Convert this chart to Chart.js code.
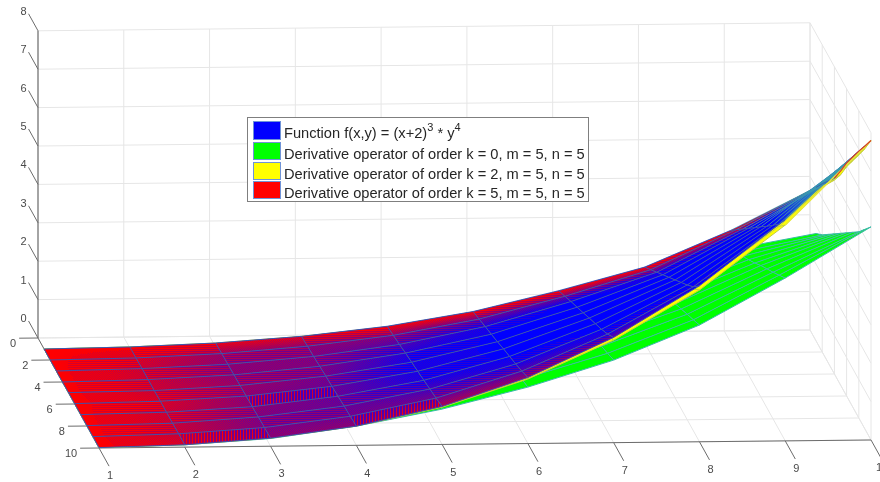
<!DOCTYPE html>
<html>
<head>
<meta charset="utf-8">
<style>
  html, body { margin: 0; padding: 0; background: #fff; }
  #box { width: 880px; height: 482px; overflow: hidden; }
  canvas { filter: blur(0.35px); }
</style>
<script src="https://cdn.jsdelivr.net/npm/chart.js@4/dist/chart.umd.min.js"></script>
</head>
<body>
<div id="box"><canvas id="surfaceChart" width="880" height="482"></canvas></div>
<script>
const xTicks = [1, 2, 3, 4, 5, 6, 7, 8, 9, 10]
const yTicks = [0, 2, 4, 6, 8, 10]
const zTicks = [0, 1, 2, 3, 4, 5, 6, 7, 8]
const xValues = [1, 2, 3, 4, 5, 6, 7, 8, 9, 10]
const yValues = [1, 2, 3, 4, 5, 6, 7, 8, 9, 10]

const legendLabels = [
  "Function f(x,y) = (x+2)|3| * y|4",
  "Derivative operator of order k = 0, m = 5, n = 5",
  "Derivative operator of order k = 2, m = 5, n = 5",
  "Derivative operator of order k = 5, m = 5, n = 5",
]

// one row per y value
const functionZ = [
  [0, .03, .11, .26, .50, .86, 1.38, 1.97, 2.90, 4.00],
  [0, .03, .12, .29, .55, .95, 1.52, 2.19, 3.21, 4.38],
  [0, .04, .13, .31, .60, 1.04, 1.67, 2.41, 3.51, 4.74],
  [0, .04, .14, .34, .66, 1.13, 1.81, 2.63, 3.82, 5.10],
  [.01, .04, .15, .37, .71, 1.22, 1.95, 2.85, 4.12, 5.57],
  [.01, .05, .16, .39, .76, 1.32, 2.10, 3.07, 4.43, 6.07],
  [.01, .05, .17, .42, .81, 1.41, 2.24, 3.29, 4.73, 6.51],
  [.01, .05, .19, .45, .87, 1.50, 2.38, 3.51, 5.04, 6.95],
  [.01, .06, .20, .47, .92, 1.60, 2.54, 3.75, 5.36, 7.37],
  [.01, .06, .21, .50, .99, 1.72, 2.74, 4.06, 5.76, 7.80],
]
const order0Z = [
  [0, .03, .10, .25, .48, .78, 1.20, 1.72, 2.40, 2.80],
  [0, .03, .11, .28, .53, .86, 1.30, 1.87, 2.60, 3.05],
  [0, .04, .12, .30, .58, .93, 1.41, 2.02, 2.80, 3.35],
  [0, .04, .13, .33, .63, 1.01, 1.52, 2.16, 3.00, 3.65],
  [.01, .04, .14, .36, .68, 1.09, 1.62, 2.31, 3.20, 3.95],
  [.01, .05, .15, .38, .72, 1.16, 1.73, 2.45, 3.42, 4.25],
  [.01, .05, .16, .41, .77, 1.24, 1.83, 2.60, 3.62, 4.55],
  [.01, .05, .18, .44, .82, 1.32, 1.94, 2.75, 3.82, 4.85],
  [.01, .06, .19, .47, .87, 1.39, 2.04, 2.89, 4.03, 5.20],
  [.01, .06, .20, .50, .92, 1.47, 2.15, 3.04, 4.24, 5.55],
]
const order2Z = [
  [0, .03, .11, .26, .49, .85, 1.36, 1.95, 2.87, 4.00],
  [0, .03, .12, .29, .54, .94, 1.50, 2.17, 3.18, 4.36],
  [0, .04, .13, .31, .59, 1.03, 1.65, 2.39, 3.48, 4.72],
  [0, .04, .14, .34, .65, 1.12, 1.79, 2.60, 3.79, 5.05],
  [.01, .04, .15, .37, .70, 1.21, 1.93, 2.82, 4.09, 5.47],
  [.01, .05, .16, .39, .75, 1.31, 2.08, 3.04, 4.40, 5.97],
  [.01, .05, .17, .42, .80, 1.39, 2.22, 3.26, 4.70, 6.41],
  [.01, .05, .19, .45, .86, 1.48, 2.36, 3.47, 5.01, 6.85],
  [.01, .06, .20, .47, .91, 1.57, 2.50, 3.70, 5.30, 7.30],
  [.01, .06, .21, .50, .97, 1.68, 2.67, 3.95, 5.62, 7.80],
]
const order5Z = [
  [0, .03, .11, .26, .50, .86, 1.38, 1.97, 2.90, 4.00],
  [0, .03, .12, .29, .55, .95, 1.52, 2.19, 3.21, 4.38],
  [0, .04, .13, .31, .60, 1.04, 1.67, 2.41, 3.51, 4.74],
  [0, .04, .14, .34, .66, 1.13, 1.81, 2.63, 3.82, 5.10],
  [.01, .04, .15, .37, .71, 1.22, 1.95, 2.85, 4.12, 5.57],
  [.01, .05, .16, .39, .76, 1.32, 2.10, 3.07, 4.43, 6.07],
  [.01, .05, .17, .42, .81, 1.41, 2.24, 3.29, 4.73, 6.51],
  [.01, .05, .19, .45, .87, 1.50, 2.38, 3.51, 5.04, 6.95],
  [.01, .06, .20, .47, .92, 1.60, 2.54, 3.75, 5.36, 7.37],
  [.01, .06, .21, .50, .99, 1.72, 2.74, 4.06, 5.76, 7.80],
]

// how much of the red surface wins over the blue one at each grid node
const redCover = [
  [1, 1, .9, .85, .95, .95, .95, .95, .9, .3],
  [1, .85, .6, .55, .5, .4, .4, .55, .65, .1],
  [1, .8, .55, .5, .3, .08, 0, .08, .15, 0],
  [1, .8, .55, .5, .15, 0, 0, 0, 0, 0],
  [1, .8, .6, .45, .08, 0, 0, 0, 0, 0],
  [1, .85, .55, .42, .08, 0, 0, 0, 0, 0],
  [1, .8, .55, .4, .12, 0, 0, 0, 0, 0],
  [1, .78, .5, .42, .28, .12, 0, 0, 0, 0],
  [1, .78, .5, .45, .45, .35, .15, .05, 0, 0],
  [1, .85, .55, .55, .7, .6, .45, .15, .1, 0],
]
// cells (row, column) that show the coarse upright hatch
const coarseHatch = ["5,2", "8,1", "8,3"]

// MATLAB view of the box, it is orthographic so a plain affine map is enough
function project(x, y, z) {
  return {
    x: 38 + 85.78 * (x - 1) + 6.1 * y,
    y: 338 - 0.89 * (x - 1) + 11 * y - 38.4 * z,
  }
}

const canvas = document.getElementById("surfaceChart")
const chartCtx = canvas.getContext("2d")

// the two top surfaces fight in the depth buffer, this paints that hatch into a pattern
function buildRedHatch() {
  const tex = document.createElement("canvas")
  tex.width = 880
  tex.height = 482
  const tctx = tex.getContext("2d")
  const img = tctx.createImageData(880, 482)
  for (let j = 0; j < 9; j++) {
    for (let i = 0; i < 9; i++) {
      const coarse = coarseHatch.includes(i + "," + j)
      for (let a = 0; a <= 1; a += 0.004) {
        for (let b = 0; b <= 1; b += 0.02) {
          const z = (1 - b) * ((1 - a) * functionZ[i][j] + a * functionZ[i][j + 1]) + b * ((1 - a) * functionZ[i + 1][j] + a * functionZ[i + 1][j + 1])
          const cover = (1 - b) * ((1 - a) * redCover[i][j] + a * redCover[i][j + 1]) + b * ((1 - a) * redCover[i + 1][j] + a * redCover[i + 1][j + 1])
          const p = project(xValues[j] + a, yValues[i] + b, z)
          const px = Math.round(p.x)
          const py = Math.round(p.y)
          if (px < 0 || px >= 880 || py < 0 || py >= 482) continue
          // solid mix, with a light stripe on top so it does not look flat
          let stripe = ((i + j) % 2 ? py % 2 : (px + py) % 2) ? -0.12 : 0.12
          if (coarse) stripe = px % 3 === 0 ? 0.35 : -0.18
          const alpha = cover > 0.97 || cover < 0.02 ? cover : Math.min(1, Math.max(0, cover + stripe))
          const at = (py * 880 + px) * 4
          img.data[at] = 255
          img.data[at + 1] = 0
          img.data[at + 2] = 0
          img.data[at + 3] = Math.round(alpha * 255)
        }
      }
    }
  }
  tctx.putImageData(img, 0, 0)
  return chartCtx.createPattern(tex, "no-repeat")
}

const datasets = []

function addLine(points, color, width, segment) {
  const line = {
    data: points,
    showLine: true,
    borderColor: color,
    borderWidth: width,
    pointRadius: 0,
    tension: 0,
    fill: false,
  }
  if (segment) line.segment = segment
  datasets.push(line)
}

function addCell(points, color) {
  datasets.push({
    data: points,
    showLine: true,
    borderWidth: 0,
    pointRadius: 0,
    tension: 0,
    backgroundColor: color,
    fill: "shape",
  })
}

function cellPoints(table, i, j) {
  return [
    project(xValues[j], yValues[i], table[i][j]),
    project(xValues[j + 1], yValues[i], table[i][j + 1]),
    project(xValues[j + 1], yValues[i + 1], table[i + 1][j + 1]),
    project(xValues[j], yValues[i + 1], table[i + 1][j]),
  ]
}

function addCells(table, color) {
  for (let i = 0; i < yValues.length - 1; i++) {
    for (let j = 0; j < xValues.length - 1; j++) {
      addCell(cellPoints(table, i, j), color)
    }
  }
}

function addMesh(table, edge, lastEdge) {
  const segment = lastEdge ? { borderColor: (c) => (c.p0DataIndex === 8 ? lastEdge : undefined) } : null
  yValues.forEach((y, i) => addLine(xValues.map((x, j) => project(x, y, table[i][j])), edge, 1, segment))
  xValues.forEach((x, j) => addLine(yValues.map((y, i) => project(x, y, table[i][j])), edge, 1))
}

// box: back wall, right wall and floor grid
const gridColor = "#e6e6e6"
zTicks.forEach((z) => {
  addLine([project(1, 0, z), project(10, 0, z)], gridColor, 1)
  addLine([project(10, 0, z), project(10, 10, z)], gridColor, 1)
})
xTicks.forEach((x) => {
  addLine([project(x, 0, 0), project(x, 0, 8)], gridColor, 1)
  addLine([project(x, 0, 0), project(x, 10, 0)], gridColor, 1)
})
yTicks.forEach((y) => {
  addLine([project(1, y, 0), project(10, y, 0)], gridColor, 1)
  addLine([project(10, y, 0), project(10, y, 8)], gridColor, 1)
})

// dark axis lines and tick marks
const axisColor = "#6b6b6b"
addLine([project(1, 0, 0), project(1, 0, 8)], "#8a8a8a", 1.5)
addLine([project(1, 0, 0), project(1, 10, 0)], axisColor, 1)
addLine([project(1, 10, 0), project(10, 10, 0)], axisColor, 1)
zTicks.forEach((z) => addLine([project(1, 0, z), project(1, -1.55, z)], axisColor, 1))
xTicks.forEach((x) => addLine([project(x, 10, 0), project(x, 11.65, 0)], axisColor, 1))
yTicks.forEach((y) => addLine([project(1, y, 0), project(0.78, y, 0)], axisColor, 1))

// surfaces, lowest first
addCells(order0Z, "#00ff00")
addMesh(order0Z, "#39b8a8")
addCells(order2Z, "#ffff00")
addMesh(order2Z, "#c4cf3a")
addCells(functionZ, "#0000ff")
addCells(order5Z, buildRedHatch())

// the last column turns teal where all the edges bunch up
const tealFade = chartCtx.createLinearGradient(project(9, 1, 0).x + 40, 0, project(10, 1, 0).x + 5, 0)
tealFade.addColorStop(0, "rgba(50,170,170,0)")
tealFade.addColorStop(1, "rgba(50,170,170,0.9)")
for (let i = 0; i < 9; i++) addCell(cellPoints(functionZ, i, 8), tealFade)

addMesh(functionZ, "rgba(58,85,176,0.9)", "rgba(60,150,175,0.7)")

// tip: yellow below, red along the far edge
addLine([project(9, 10, order2Z[9][8]), project(10, 10, order2Z[9][9])], "#e8e83a", 1.5)
addLine(yValues.slice(3).map((y, i) => project(10, y, functionZ[i + 3][9])), "#d8402a", 1.2)

const tickText = {
  id: "tickText",
  afterDatasetsDraw(chart) {
    const { ctx, scales } = chart
    ctx.save()
    ctx.font = '11px "Liberation Sans"'
    ctx.fillStyle = "#4a4a4a"
    ctx.textBaseline = "middle"
    const put = (text, p, dx, dy, align) => {
      ctx.textAlign = align || "center"
      ctx.fillText(text, scales.x.getPixelForValue(p.x) + dx, scales.y.getPixelForValue(p.y) + dy)
    }
    zTicks.forEach((z) => put(String(z), project(1, -1.55, z), -5, -2))
    xTicks.forEach((x) => put(String(x), project(x, 11.65, 0), 1, 10))
    yTicks.forEach((y) => put(String(y), project(0.78, y, 0), -3, 6, "right"))
    ctx.restore()
  },
}

const boxLegend = {
  id: "boxLegend",
  afterDraw(chart) {
    const ctx = chart.ctx
    const swatchColors = ["#0000ff", "#00ff00", "#ffff00", "#ff0000"]
    const swatchTop = [121, 142, 162, 181]
    const swatchHeight = [18, 17, 17, 17]
    ctx.save()
    ctx.fillStyle = "#fff"
    ctx.fillRect(247.5, 117.5, 341, 84)
    ctx.strokeStyle = "#7f7f7f"
    ctx.lineWidth = 1
    ctx.strokeRect(247.5, 117.5, 341, 84)
    legendLabels.forEach((label, i) => {
      ctx.fillStyle = swatchColors[i]
      ctx.fillRect(253.5, swatchTop[i] + .5, 27, swatchHeight[i])
      ctx.strokeStyle = "#6f93d8"
      ctx.strokeRect(253.5, swatchTop[i] + .5, 27, swatchHeight[i])
      ctx.fillStyle = "#262626"
      ctx.textBaseline = "alphabetic"
      let penX = 284
      const baseY = swatchTop[i] + 16.5
      label.split("|").forEach((part, k) => {
        ctx.font = k % 2 ? '11px "Liberation Sans"' : '14.65px "Liberation Sans"'
        ctx.fillText(part, penX, k % 2 ? baseY - 7 : baseY)
        penX += ctx.measureText(part).width
      })
    })
    ctx.restore()
  },
}

new Chart(chartCtx, {
  type: "scatter",
  data: { datasets: datasets.reverse() },
  options: {
    responsive: false,
    animation: false,
    layout: { padding: 0 },
    plugins: { legend: { display: false }, tooltip: { enabled: false } },
    scales: {
      x: { type: "linear", display: false, min: 0, max: 880 },
      y: { type: "linear", display: false, min: 0, max: 482, reverse: true },
    },
  },
  plugins: [tickText, boxLegend],
})
</script>
</body>
</html>
